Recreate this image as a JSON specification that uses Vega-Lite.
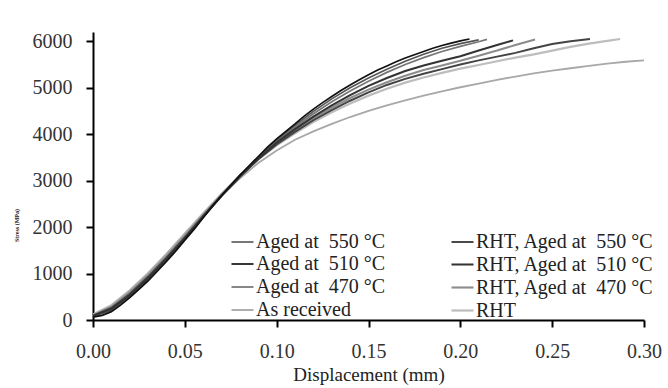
{
  "$schema": "https://vega.github.io/schema/vega-lite/v6.json",
  "width": 551,
  "height": 288,
  "autosize": {"type": "none"},
  "padding": {"left": 93, "top": 32, "right": 24, "bottom": 68},
  "background": "white",
  "config": {
    "view": {"stroke": null},
    "axis": {
      "grid": false,
      "labelFlush": false,
      "domainColor": "#000",
      "domainWidth": 2,
      "tickColor": "#000",
      "tickWidth": 2,
      "tickSize": 7,
      "labelFont": "Liberation Serif",
      "labelFontSize": 20,
      "labelColor": "#333",
      "titleFont": "Liberation Serif",
      "titleFontWeight": "normal",
      "titleColor": "#222"
    },
    "legend": {
      "orient": "none",
      "legendX": 137,
      "legendY": 198,
      "columns": 2,
      "columnPadding": 61,
      "rowPadding": -2.6,
      "symbolType": "stroke",
      "symbolSize": 484,
      "labelFont": "Liberation Serif",
      "labelFontSize": 20,
      "labelColor": "#222",
      "labelOffset": 1,
      "labelLimit": 400
    }
  },
  "data": {"values": [
    {"s": "RHT", "x": 0.0, "y": 120}, {"s": "RHT", "x": 0.01, "y": 320}, {"s": "RHT", "x": 0.02, "y": 640}, {"s": "RHT", "x": 0.03, "y": 1010}, {"s": "RHT", "x": 0.04, "y": 1420}, {"s": "RHT", "x": 0.05, "y": 1860}, {"s": "RHT", "x": 0.06, "y": 2300}, {"s": "RHT", "x": 0.07, "y": 2720}, {"s": "RHT", "x": 0.08, "y": 3110}, {"s": "RHT", "x": 0.09, "y": 3460}, {"s": "RHT", "x": 0.1, "y": 3760}, {"s": "RHT", "x": 0.11, "y": 4020}, {"s": "RHT", "x": 0.12, "y": 4260}, {"s": "RHT", "x": 0.13, "y": 4470}, {"s": "RHT", "x": 0.14, "y": 4660}, {"s": "RHT", "x": 0.15, "y": 4830}, {"s": "RHT", "x": 0.16, "y": 4980}, {"s": "RHT", "x": 0.17, "y": 5110}, {"s": "RHT", "x": 0.18, "y": 5220}, {"s": "RHT", "x": 0.19, "y": 5320}, {"s": "RHT", "x": 0.2, "y": 5410}, {"s": "RHT", "x": 0.21, "y": 5490}, {"s": "RHT", "x": 0.22, "y": 5570}, {"s": "RHT", "x": 0.23, "y": 5650}, {"s": "RHT", "x": 0.24, "y": 5720}, {"s": "RHT", "x": 0.25, "y": 5800}, {"s": "RHT", "x": 0.26, "y": 5880}, {"s": "RHT", "x": 0.27, "y": 5950}, {"s": "RHT", "x": 0.28, "y": 6010}, {"s": "RHT", "x": 0.287, "y": 6050},

    {"s": "As received", "x": 0.0, "y": 110}, {"s": "As received", "x": 0.01, "y": 300}, {"s": "As received", "x": 0.02, "y": 620}, {"s": "As received", "x": 0.03, "y": 1000}, {"s": "As received", "x": 0.04, "y": 1420}, {"s": "As received", "x": 0.05, "y": 1850}, {"s": "As received", "x": 0.06, "y": 2280}, {"s": "As received", "x": 0.07, "y": 2680}, {"s": "As received", "x": 0.08, "y": 3050}, {"s": "As received", "x": 0.09, "y": 3380}, {"s": "As received", "x": 0.1, "y": 3650}, {"s": "As received", "x": 0.11, "y": 3880}, {"s": "As received", "x": 0.12, "y": 4060}, {"s": "As received", "x": 0.13, "y": 4220}, {"s": "As received", "x": 0.14, "y": 4370}, {"s": "As received", "x": 0.15, "y": 4500}, {"s": "As received", "x": 0.16, "y": 4620}, {"s": "As received", "x": 0.17, "y": 4730}, {"s": "As received", "x": 0.18, "y": 4830}, {"s": "As received", "x": 0.19, "y": 4920}, {"s": "As received", "x": 0.2, "y": 5010}, {"s": "As received", "x": 0.21, "y": 5090}, {"s": "As received", "x": 0.22, "y": 5170}, {"s": "As received", "x": 0.23, "y": 5240}, {"s": "As received", "x": 0.24, "y": 5310}, {"s": "As received", "x": 0.25, "y": 5370}, {"s": "As received", "x": 0.26, "y": 5420}, {"s": "As received", "x": 0.27, "y": 5470}, {"s": "As received", "x": 0.28, "y": 5520}, {"s": "As received", "x": 0.29, "y": 5560}, {"s": "As received", "x": 0.3, "y": 5590},

    {"s": "RHT, Aged at\u00a0 470 °C", "x": 0.0, "y": 100}, {"s": "RHT, Aged at\u00a0 470 °C", "x": 0.01, "y": 280}, {"s": "RHT, Aged at\u00a0 470 °C", "x": 0.02, "y": 590}, {"s": "RHT, Aged at\u00a0 470 °C", "x": 0.03, "y": 960}, {"s": "RHT, Aged at\u00a0 470 °C", "x": 0.04, "y": 1370}, {"s": "RHT, Aged at\u00a0 470 °C", "x": 0.05, "y": 1810}, {"s": "RHT, Aged at\u00a0 470 °C", "x": 0.06, "y": 2260}, {"s": "RHT, Aged at\u00a0 470 °C", "x": 0.07, "y": 2700}, {"s": "RHT, Aged at\u00a0 470 °C", "x": 0.08, "y": 3110}, {"s": "RHT, Aged at\u00a0 470 °C", "x": 0.09, "y": 3470}, {"s": "RHT, Aged at\u00a0 470 °C", "x": 0.1, "y": 3800}, {"s": "RHT, Aged at\u00a0 470 °C", "x": 0.11, "y": 4080}, {"s": "RHT, Aged at\u00a0 470 °C", "x": 0.12, "y": 4340}, {"s": "RHT, Aged at\u00a0 470 °C", "x": 0.13, "y": 4570}, {"s": "RHT, Aged at\u00a0 470 °C", "x": 0.14, "y": 4780}, {"s": "RHT, Aged at\u00a0 470 °C", "x": 0.15, "y": 4960}, {"s": "RHT, Aged at\u00a0 470 °C", "x": 0.16, "y": 5120}, {"s": "RHT, Aged at\u00a0 470 °C", "x": 0.17, "y": 5260}, {"s": "RHT, Aged at\u00a0 470 °C", "x": 0.18, "y": 5380}, {"s": "RHT, Aged at\u00a0 470 °C", "x": 0.19, "y": 5480}, {"s": "RHT, Aged at\u00a0 470 °C", "x": 0.2, "y": 5580}, {"s": "RHT, Aged at\u00a0 470 °C", "x": 0.21, "y": 5690}, {"s": "RHT, Aged at\u00a0 470 °C", "x": 0.22, "y": 5800}, {"s": "RHT, Aged at\u00a0 470 °C", "x": 0.23, "y": 5920}, {"s": "RHT, Aged at\u00a0 470 °C", "x": 0.2407, "y": 6040},

    {"s": "Aged at\u00a0 470 °C", "x": 0.0, "y": 80}, {"s": "Aged at\u00a0 470 °C", "x": 0.01, "y": 250}, {"s": "Aged at\u00a0 470 °C", "x": 0.02, "y": 540}, {"s": "Aged at\u00a0 470 °C", "x": 0.03, "y": 900}, {"s": "Aged at\u00a0 470 °C", "x": 0.04, "y": 1310}, {"s": "Aged at\u00a0 470 °C", "x": 0.05, "y": 1760}, {"s": "Aged at\u00a0 470 °C", "x": 0.06, "y": 2230}, {"s": "Aged at\u00a0 470 °C", "x": 0.07, "y": 2680}, {"s": "Aged at\u00a0 470 °C", "x": 0.08, "y": 3100}, {"s": "Aged at\u00a0 470 °C", "x": 0.09, "y": 3490}, {"s": "Aged at\u00a0 470 °C", "x": 0.1, "y": 3850}, {"s": "Aged at\u00a0 470 °C", "x": 0.11, "y": 4150}, {"s": "Aged at\u00a0 470 °C", "x": 0.12, "y": 4440}, {"s": "Aged at\u00a0 470 °C", "x": 0.13, "y": 4700}, {"s": "Aged at\u00a0 470 °C", "x": 0.14, "y": 4930}, {"s": "Aged at\u00a0 470 °C", "x": 0.15, "y": 5140}, {"s": "Aged at\u00a0 470 °C", "x": 0.16, "y": 5330}, {"s": "Aged at\u00a0 470 °C", "x": 0.17, "y": 5500}, {"s": "Aged at\u00a0 470 °C", "x": 0.18, "y": 5650}, {"s": "Aged at\u00a0 470 °C", "x": 0.19, "y": 5780}, {"s": "Aged at\u00a0 470 °C", "x": 0.2, "y": 5890}, {"s": "Aged at\u00a0 470 °C", "x": 0.21, "y": 5990}, {"s": "Aged at\u00a0 470 °C", "x": 0.2145, "y": 6040},

    {"s": "RHT, Aged at\u00a0 550 °C", "x": 0.0, "y": 90}, {"s": "RHT, Aged at\u00a0 550 °C", "x": 0.01, "y": 260}, {"s": "RHT, Aged at\u00a0 550 °C", "x": 0.02, "y": 560}, {"s": "RHT, Aged at\u00a0 550 °C", "x": 0.03, "y": 930}, {"s": "RHT, Aged at\u00a0 550 °C", "x": 0.04, "y": 1340}, {"s": "RHT, Aged at\u00a0 550 °C", "x": 0.05, "y": 1780}, {"s": "RHT, Aged at\u00a0 550 °C", "x": 0.06, "y": 2240}, {"s": "RHT, Aged at\u00a0 550 °C", "x": 0.07, "y": 2680}, {"s": "RHT, Aged at\u00a0 550 °C", "x": 0.08, "y": 3090}, {"s": "RHT, Aged at\u00a0 550 °C", "x": 0.09, "y": 3460}, {"s": "RHT, Aged at\u00a0 550 °C", "x": 0.1, "y": 3780}, {"s": "RHT, Aged at\u00a0 550 °C", "x": 0.11, "y": 4050}, {"s": "RHT, Aged at\u00a0 550 °C", "x": 0.12, "y": 4300}, {"s": "RHT, Aged at\u00a0 550 °C", "x": 0.13, "y": 4520}, {"s": "RHT, Aged at\u00a0 550 °C", "x": 0.14, "y": 4720}, {"s": "RHT, Aged at\u00a0 550 °C", "x": 0.15, "y": 4900}, {"s": "RHT, Aged at\u00a0 550 °C", "x": 0.16, "y": 5060}, {"s": "RHT, Aged at\u00a0 550 °C", "x": 0.17, "y": 5190}, {"s": "RHT, Aged at\u00a0 550 °C", "x": 0.18, "y": 5300}, {"s": "RHT, Aged at\u00a0 550 °C", "x": 0.19, "y": 5400}, {"s": "RHT, Aged at\u00a0 550 °C", "x": 0.2, "y": 5500}, {"s": "RHT, Aged at\u00a0 550 °C", "x": 0.21, "y": 5590}, {"s": "RHT, Aged at\u00a0 550 °C", "x": 0.22, "y": 5670}, {"s": "RHT, Aged at\u00a0 550 °C", "x": 0.23, "y": 5750}, {"s": "RHT, Aged at\u00a0 550 °C", "x": 0.24, "y": 5850}, {"s": "RHT, Aged at\u00a0 550 °C", "x": 0.25, "y": 5940}, {"s": "RHT, Aged at\u00a0 550 °C", "x": 0.26, "y": 6000}, {"s": "RHT, Aged at\u00a0 550 °C", "x": 0.2706, "y": 6050},

    {"s": "Aged at\u00a0 550 °C", "x": 0.0, "y": 70}, {"s": "Aged at\u00a0 550 °C", "x": 0.01, "y": 210}, {"s": "Aged at\u00a0 550 °C", "x": 0.02, "y": 500}, {"s": "Aged at\u00a0 550 °C", "x": 0.03, "y": 860}, {"s": "Aged at\u00a0 550 °C", "x": 0.04, "y": 1280}, {"s": "Aged at\u00a0 550 °C", "x": 0.05, "y": 1740}, {"s": "Aged at\u00a0 550 °C", "x": 0.06, "y": 2210}, {"s": "Aged at\u00a0 550 °C", "x": 0.07, "y": 2680}, {"s": "Aged at\u00a0 550 °C", "x": 0.08, "y": 3110}, {"s": "Aged at\u00a0 550 °C", "x": 0.09, "y": 3510}, {"s": "Aged at\u00a0 550 °C", "x": 0.1, "y": 3880}, {"s": "Aged at\u00a0 550 °C", "x": 0.11, "y": 4190}, {"s": "Aged at\u00a0 550 °C", "x": 0.12, "y": 4490}, {"s": "Aged at\u00a0 550 °C", "x": 0.13, "y": 4760}, {"s": "Aged at\u00a0 550 °C", "x": 0.14, "y": 5000}, {"s": "Aged at\u00a0 550 °C", "x": 0.15, "y": 5210}, {"s": "Aged at\u00a0 550 °C", "x": 0.16, "y": 5400}, {"s": "Aged at\u00a0 550 °C", "x": 0.17, "y": 5570}, {"s": "Aged at\u00a0 550 °C", "x": 0.18, "y": 5720}, {"s": "Aged at\u00a0 550 °C", "x": 0.19, "y": 5850}, {"s": "Aged at\u00a0 550 °C", "x": 0.2, "y": 5950}, {"s": "Aged at\u00a0 550 °C", "x": 0.21, "y": 6030},

    {"s": "RHT, Aged at\u00a0 510 °C", "x": 0.0, "y": 90}, {"s": "RHT, Aged at\u00a0 510 °C", "x": 0.01, "y": 240}, {"s": "RHT, Aged at\u00a0 510 °C", "x": 0.02, "y": 530}, {"s": "RHT, Aged at\u00a0 510 °C", "x": 0.03, "y": 900}, {"s": "RHT, Aged at\u00a0 510 °C", "x": 0.04, "y": 1310}, {"s": "RHT, Aged at\u00a0 510 °C", "x": 0.05, "y": 1760}, {"s": "RHT, Aged at\u00a0 510 °C", "x": 0.06, "y": 2220}, {"s": "RHT, Aged at\u00a0 510 °C", "x": 0.07, "y": 2670}, {"s": "RHT, Aged at\u00a0 510 °C", "x": 0.08, "y": 3090}, {"s": "RHT, Aged at\u00a0 510 °C", "x": 0.09, "y": 3470}, {"s": "RHT, Aged at\u00a0 510 °C", "x": 0.1, "y": 3820}, {"s": "RHT, Aged at\u00a0 510 °C", "x": 0.11, "y": 4110}, {"s": "RHT, Aged at\u00a0 510 °C", "x": 0.12, "y": 4380}, {"s": "RHT, Aged at\u00a0 510 °C", "x": 0.13, "y": 4620}, {"s": "RHT, Aged at\u00a0 510 °C", "x": 0.14, "y": 4840}, {"s": "RHT, Aged at\u00a0 510 °C", "x": 0.15, "y": 5040}, {"s": "RHT, Aged at\u00a0 510 °C", "x": 0.16, "y": 5210}, {"s": "RHT, Aged at\u00a0 510 °C", "x": 0.17, "y": 5360}, {"s": "RHT, Aged at\u00a0 510 °C", "x": 0.18, "y": 5480}, {"s": "RHT, Aged at\u00a0 510 °C", "x": 0.19, "y": 5580}, {"s": "RHT, Aged at\u00a0 510 °C", "x": 0.2, "y": 5680}, {"s": "RHT, Aged at\u00a0 510 °C", "x": 0.21, "y": 5800}, {"s": "RHT, Aged at\u00a0 510 °C", "x": 0.22, "y": 5920}, {"s": "RHT, Aged at\u00a0 510 °C", "x": 0.2287, "y": 6020},

    {"s": "Aged at\u00a0 510 °C", "x": 0.0, "y": 60}, {"s": "Aged at\u00a0 510 °C", "x": 0.005, "y": 100}, {"s": "Aged at\u00a0 510 °C", "x": 0.01, "y": 180}, {"s": "Aged at\u00a0 510 °C", "x": 0.015, "y": 320}, {"s": "Aged at\u00a0 510 °C", "x": 0.02, "y": 480}, {"s": "Aged at\u00a0 510 °C", "x": 0.025, "y": 660}, {"s": "Aged at\u00a0 510 °C", "x": 0.03, "y": 840}, {"s": "Aged at\u00a0 510 °C", "x": 0.035, "y": 1050}, {"s": "Aged at\u00a0 510 °C", "x": 0.04, "y": 1260}, {"s": "Aged at\u00a0 510 °C", "x": 0.045, "y": 1480}, {"s": "Aged at\u00a0 510 °C", "x": 0.05, "y": 1720}, {"s": "Aged at\u00a0 510 °C", "x": 0.055, "y": 1950}, {"s": "Aged at\u00a0 510 °C", "x": 0.06, "y": 2200}, {"s": "Aged at\u00a0 510 °C", "x": 0.065, "y": 2450}, {"s": "Aged at\u00a0 510 °C", "x": 0.07, "y": 2680}, {"s": "Aged at\u00a0 510 °C", "x": 0.075, "y": 2900}, {"s": "Aged at\u00a0 510 °C", "x": 0.08, "y": 3120}, {"s": "Aged at\u00a0 510 °C", "x": 0.085, "y": 3320}, {"s": "Aged at\u00a0 510 °C", "x": 0.09, "y": 3520}, {"s": "Aged at\u00a0 510 °C", "x": 0.095, "y": 3720}, {"s": "Aged at\u00a0 510 °C", "x": 0.1, "y": 3900}, {"s": "Aged at\u00a0 510 °C", "x": 0.105, "y": 4060}, {"s": "Aged at\u00a0 510 °C", "x": 0.11, "y": 4220}, {"s": "Aged at\u00a0 510 °C", "x": 0.115, "y": 4390}, {"s": "Aged at\u00a0 510 °C", "x": 0.12, "y": 4540}, {"s": "Aged at\u00a0 510 °C", "x": 0.125, "y": 4680}, {"s": "Aged at\u00a0 510 °C", "x": 0.13, "y": 4810}, {"s": "Aged at\u00a0 510 °C", "x": 0.135, "y": 4940}, {"s": "Aged at\u00a0 510 °C", "x": 0.14, "y": 5060}, {"s": "Aged at\u00a0 510 °C", "x": 0.145, "y": 5170}, {"s": "Aged at\u00a0 510 °C", "x": 0.15, "y": 5280}, {"s": "Aged at\u00a0 510 °C", "x": 0.155, "y": 5380}, {"s": "Aged at\u00a0 510 °C", "x": 0.16, "y": 5470}, {"s": "Aged at\u00a0 510 °C", "x": 0.165, "y": 5560}, {"s": "Aged at\u00a0 510 °C", "x": 0.17, "y": 5640}, {"s": "Aged at\u00a0 510 °C", "x": 0.175, "y": 5710}, {"s": "Aged at\u00a0 510 °C", "x": 0.18, "y": 5780}, {"s": "Aged at\u00a0 510 °C", "x": 0.185, "y": 5850}, {"s": "Aged at\u00a0 510 °C", "x": 0.19, "y": 5910}, {"s": "Aged at\u00a0 510 °C", "x": 0.195, "y": 5960}, {"s": "Aged at\u00a0 510 °C", "x": 0.2, "y": 6010}, {"s": "Aged at\u00a0 510 °C", "x": 0.205, "y": 6050}
  ]},
  "mark": {"type": "line", "clip": true},
  "encoding": {
    "x": {
      "field": "x", "type": "quantitative",
      "scale": {"domain": [0, 0.3], "nice": false, "zero": false},
      "axis": {"values": [0, 0.05, 0.1, 0.15, 0.2, 0.25, 0.3], "format": ".2f", "labelPadding": 14, "title": "Displacement (mm)", "titleFontSize": 19, "titlePadding": 4}
    },
    "y": {
      "field": "y", "type": "quantitative",
      "scale": {"domain": [0, 6200], "nice": false, "zero": false},
      "axis": {"values": [0, 1000, 2000, 3000, 4000, 5000, 6000], "format": "d", "labelPadding": 14, "title": "Stress (MPa)", "titleFontSize": 6, "titleFontWeight": "bold", "titleX": -77, "titleY": 193, "titleAnchor": "middle", "titleBaseline": "middle"}
    },
    "color": {
      "field": "s", "type": "nominal", "sort": null,
      "scale": {
        "domain": ["Aged at\u00a0 550 °C", "Aged at\u00a0 510 °C", "Aged at\u00a0 470 °C", "As received", "RHT, Aged at\u00a0 550 °C", "RHT, Aged at\u00a0 510 °C", "RHT, Aged at\u00a0 470 °C", "RHT"],
        "range": ["#555555", "#111111", "#777777", "#a8a8a8", "#444444", "#333333", "#8c8c8c", "#bdbdbd"]
      },
      "legend": {"title": null}
    },
    "strokeWidth": {
      "field": "s", "type": "nominal", "sort": null,
      "scale": {
        "domain": ["Aged at\u00a0 550 °C", "Aged at\u00a0 510 °C", "Aged at\u00a0 470 °C", "As received", "RHT, Aged at\u00a0 550 °C", "RHT, Aged at\u00a0 510 °C", "RHT, Aged at\u00a0 470 °C", "RHT"],
        "range": [1.6, 2.2, 1.3, 2, 1.6, 1.8, 1.3, 1.8]
      },
      "legend": {"title": null}
    }
  }
}
